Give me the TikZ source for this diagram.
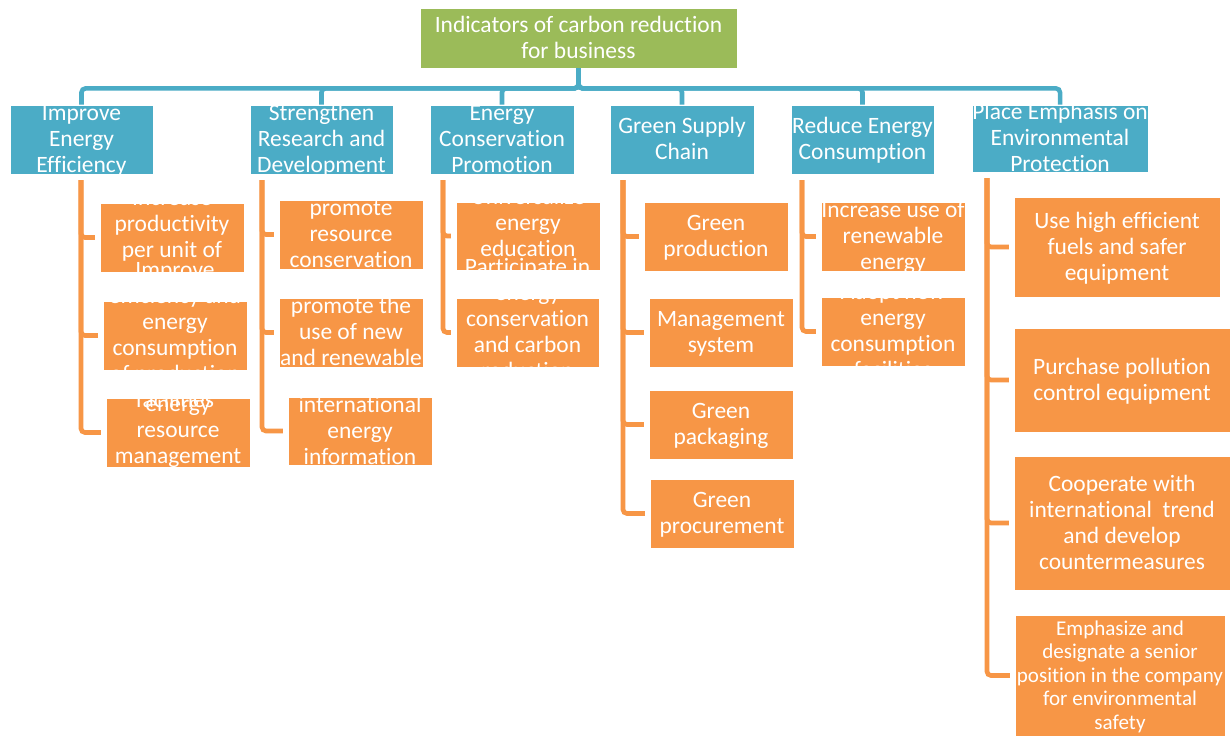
\documentclass[tikz,border=0pt]{standalone}
\usepackage{fontspec}
\setmainfont{Carlito}[Ligatures=NoCommon]
\usepackage{tikz}

\definecolor{rootgreen}{HTML}{9BBB59}
\definecolor{headblue}{HTML}{4BACC6}
\definecolor{itemorange}{HTML}{F79646}

\begin{document}
\begin{tikzpicture}[x=0.75pt,y=-0.75pt,
  box/.style={draw=white,line width=0.6pt,inner sep=0pt,rectangle},
  sz/.style 2 args={minimum width=#1*0.75pt,minimum height=#2*0.75pt},
  rootbox/.style={box,fill=rootgreen},
  headbox/.style={box,fill=headblue},
  itembox/.style={box,fill=itemorange},
  txt/.style={text=white,align=center,inner sep=0pt,yshift=-2.3pt,
    font=\fontsize{17.6}{19.5}\selectfont,
    execute at begin node=\strut,execute at end node=\strut},
  smalltxt/.style={txt,font=\fontsize{15.8}{17.6}\selectfont},
  bline/.style={headblue,line width=3.4pt,rounded corners=3pt},
  oline/.style={itemorange,line width=3.5pt,rounded corners=3pt,shorten >=3.5pt}]

\useasboundingbox (0,0) rectangle (1230,736);
\fill[white] (0,0) rectangle (1230,736);

% boxes
\node[rootbox,sz={317}{60}] (root) at (578.5,38) {};

\node[headbox,sz={143}{69}] (b1) at (81.5,139.5) {};
\node[headbox,sz={143}{69}] (b2) at (321.5,139.5) {};
\node[headbox,sz={144}{69}] (b3) at (502,139.5) {};
\node[headbox,sz={144}{69}] (b4) at (682,139.5) {};
\node[headbox,sz={143}{69}] (b5) at (862.5,139.5) {};
\node[headbox,sz={176}{67}] (b6) at (1060,138.5) {};

\node[itembox,sz={144}{69}] (c1) at (172,237.5) {};
\node[itembox,sz={144}{69}] (c2) at (175,335.5) {};
\node[itembox,sz={144}{69}] (c3) at (178,432.5) {};

\node[itembox,sz={144}{69}] (d1) at (351,234.5) {};
\node[itembox,sz={144}{69}] (d2) at (351,332.5) {};
\node[itembox,sz={144}{68}] (d3) at (360,431) {};

\node[itembox,sz={144}{68}] (e1) at (528,236) {};
\node[itembox,sz={143}{69}] (e2) at (527.5,332.5) {};

\node[itembox,sz={144}{69}] (f1) at (716,236.5) {};
\node[itembox,sz={144}{69}] (f2) at (721,332.5) {};
\node[itembox,sz={144}{69}] (f3) at (721,424.5) {};
\node[itembox,sz={144}{69}] (f4) at (722,513.5) {};

\node[itembox,sz={144}{69}] (g1) at (893,236.5) {};
\node[itembox,sz={144}{69}] (g2) at (893,331.5) {};

\node[itembox,sz={206}{100}] (h1) at (1117,247) {};
\node[itembox,sz={216}{104}] (h2) at (1122,380) {};
\node[itembox,sz={216}{134}] (h3) at (1122,523) {};
\node[itembox,sz={210}{121}] (h4) at (1120,675.5) {};

% blue links from the root
\foreach \b in {b1,b2,b3,b4,b5,b6}
  \draw[bline] (root.south) -- ++(0,20) -| (\b.north);

% orange brackets
\coordinate (t1) at (81,180);
\coordinate (t2) at (262,180);
\coordinate (t3) at (443,180);
\coordinate (t4) at (623,180);
\coordinate (t5) at (802,180);
\coordinate (t6) at (987,178);
\foreach \c in {c1,c2,c3} \draw[oline] (t1) |- (\c.west);
\foreach \c in {d1,d2,d3} \draw[oline] (t2) |- (\c.west);
\foreach \c in {e1,e2} \draw[oline] (t3) |- (\c.west);
\foreach \c in {f1,f2,f3,f4} \draw[oline] (t4) |- (\c.west);
\foreach \c in {g1,g2} \draw[oline] (t5) |- (\c.west);
\foreach \c in {h1,h2,h3,h4} \draw[oline] (t6) |- (\c.west);

% texts, on top of every box
\node[txt] (roott) at (root) {Indicators of carbon reduction\\for business};

\node[txt] (b1t) at (b1) {Improve\\Energy\\Efficiency};
\node[txt] (b2t) at (b2) {Strengthen\\Research and\\Development};
\node[txt] (b3t) at (b3) {Energy\\Conservation\\Promotion};
\node[txt] (b4t) at (b4) {Green Supply\\Chain};
\node[txt] (b5t) at (b5) {Reduce Energy\\Consumption};
\node[txt] (b6t) at (b6) {Place Emphasis on\\Environmental\\Protection};

\node[txt] (c1t) at (c1) {Increase\\productivity\\per unit of\\};
\node[txt] (c2t) at (c2) {Improve\\efficiency and\\energy\\consumption\\of production\\facilities};
\node[txt] (c3t) at (c3) {energy\\resource\\management};

\node[txt] (d1t) at (d1) {promote\\resource\\conservation};
\node[txt] (d2t) at (d2) {promote the\\use of new\\and renewable};
\node[txt] (d3t) at (d3) {international\\energy\\information};

\node[txt] (e1t) at (e1) {Universalize\\energy\\education\\};
\node[txt] (e2t) at (e2) {Participate in\\energy\\conservation\\and carbon\\reduction\\};

\node[txt] (f1t) at (f1) {Green\\production};
\node[txt] (f2t) at (f2) {Management\\system};
\node[txt] (f3t) at (f3) {Green\\packaging};
\node[txt] (f4t) at (f4) {Green\\procurement};

\node[txt] (g1t) at (g1) {Increase use of\\renewable\\energy};
\node[txt] (g2t) at (g2) {Adopt new\\energy\\consumption\\facilities};

\node[txt] (h1t) at (h1) {Use high efficient\\fuels and safer\\equipment};
\node[txt] (h2t) at (h2) {Purchase pollution\\control equipment};
\node[txt] (h3t) at (h3) {Cooperate with\\international~ trend\\and develop\\countermeasures};
\node[smalltxt] (h4t) at (h4) {Emphasize and\\designate a senior\\position in the company\\for environmental\\safety};

\end{tikzpicture}
\end{document}
